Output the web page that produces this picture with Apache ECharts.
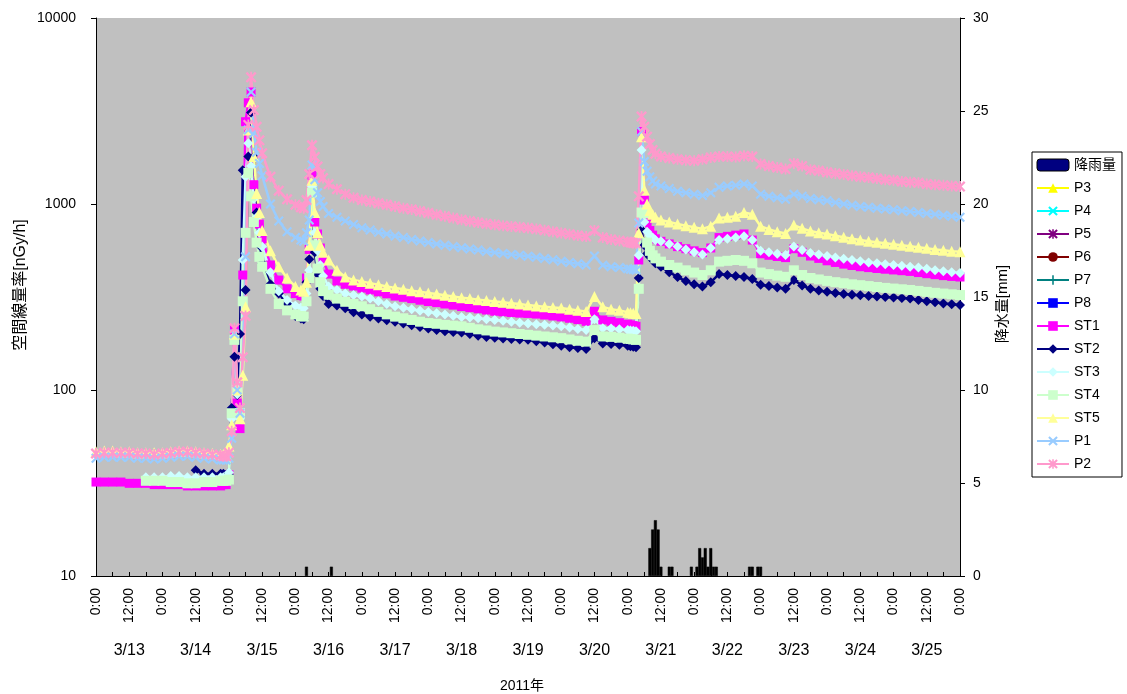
<!DOCTYPE html>
<html><head><meta charset="utf-8">
<script src="https://cdn.jsdelivr.net/npm/echarts@6/dist/echarts.min.js"></script>
<style>html,body{margin:0;padding:0;background:#fff}#c{width:1127px;height:694px}</style>
</head><body><div id="c"></div>
<script>
// hours since 2011-03-13 0:00
const hours = [0,3,6,9,12,15,18,21,24,27,30,33,36,39,42,45,
46,47,48,49,50,51,52,53,54,55,56,57,58,59,60,
63,66,69,72,
74,75,76,77,78,79,80,81,82,
84,
87,90,93,96,99,102,105,108,111,114,117,120,123,126,129,132,135,138,141,144,147,150,153,156,159,162,165,168,171,174,177,180,183,186,189,192,
193,194,195,196,197,198,199,200,201,202,
204,
207,210,213,216,219,222,225,228,231,234,237,240,243,246,249,252,255,258,261,264,267,270,273,276,279,282,285,288,291,294,297,300,303,306,309,312];

const P2 = [45.5,46,46,46,46,45.5,45.5,45,45.5,46,46.5,46.5,46,45.5,45,44.5,
44,44,46,60,215,110,80,150,250,2660,4800,3200,2600,2200,1875,
1400,1180,1060,990,
960,950,1050,1450,2070,1790,1590,1450,1380,
1280,
1200,1130,1080,1050,1030,1010,990,970,950,935,915,895,875,858,840,822,808,795,783,773,765,758,750,742,733,722,710,698,688,678,668,720,660,645,635,625,
622,618,615,1100,2950,2600,2300,2100,1950,1860,
1800,
1770,1740,1720,1710,1740,1780,1800,1800,1790,1820,1800,1640,1600,1570,1540,1650,1600,1530,1510,1480,1460,1440,1420,1400,1390,1370,1350,1340,1320,1310,1300,1280,1270,1260,1250,1240];

const P1 = [43,43.5,43.5,43.5,43.5,43,43,42.5,43,43.5,44,44,43.5,43,42.5,42,
42,42,43,55,200,100,75,150,520,2500,4000,2400,1900,1650,1420,
1000,810,710,660,
640,630,700,820,1620,1350,1150,1030,970,
890,
850,810,775,745,725,705,690,672,660,645,632,620,610,600,590,582,573,565,556,548,542,536,530,524,518,510,502,493,485,477,470,525,468,460,455,448,
446,444,442,790,2450,1690,1500,1400,1330,1280,
1250,
1210,1170,1150,1130,1110,1150,1230,1250,1260,1280,1250,1130,1100,1080,1060,1130,1100,1070,1055,1040,1020,1000,985,970,960,950,940,930,920,910,900,890,880,870,860,850];

const ST5 = [46.5,47,47,46.5,46.5,46,46,46,46,46.5,47,47,46.5,46,45.5,45,
45,45,50,65,200,100,70,120,280,2500,3550,1800,1140,900,720,
560,460,400,360,
345,340,380,600,1340,900,700,600,550,
500,
440,405,390,383,375,368,360,354,348,342,337,332,328,323,318,313,310,306,303,299,296,293,290,286,283,280,278,276,272,268,264,318,280,272,268,262,
260,259,258,700,2300,1190,1000,920,880,850,
820,
800,780,765,750,735,760,840,850,860,900,880,760,730,710,695,770,740,715,700,690,675,662,650,640,630,622,615,607,600,592,585,578,570,564,558,553];

const ST1 = [32,32,32,32,31.5,31.5,31.5,31,31,31,31,30.5,30.5,30.5,30.5,30.5,
31,31,35,75,210,85,62,415,2770,3500,4000,1270,950,780,650,
470,390,350,330,
322,320,400,570,1430,800,690,580,500,
420,
385,370,362,353,345,337,329,320,315,310,304,299,295,290,286,281,277,273,269,265,263,261,259,258,256,253,250,247,243,239,234,265,238,234,230,226,
224,222,220,500,2450,1050,800,720,680,650,
630,
610,590,575,560,548,580,660,670,680,690,640,540,530,522,515,575,550,525,510,495,485,475,467,460,455,450,446,442,438,434,428,422,417,412,408,405];

const ST2 = [null,null,null,null,null,null,null,null,null,null,null,null,37,35.5,35.5,35.5,
35.5,35,35,80,151,94,200,1520,345,1800,3100,1790,900,600,480,
370,330,290,250,
242,240,380,505,1150,550,420,350,320,
290,
285,275,262,255,248,242,237,233,228,223,218,214,210,207,205,204,200,196,193,191,189,188,187,186,183,180,176,173,170,168,166,190,178,177,175,173,
172,171,170,400,725,600,540,520,500,480,
460,
430,405,385,370,360,380,420,415,410,405,395,368,362,356,350,390,365,350,343,337,332,328,325,323,320,318,316,314,312,310,305,300,296,292,289,286];

const ST3 = [null,null,null,null,null,null,34,34,34,34.5,34.5,34,34,34,34,34,
34,34,36,70,190,95,70,500,1400,2120,1600,1070,850,700,590,
430,340,305,285,
278,275,330,440,1240,700,560,470,410,
360,
345,330,324,318,310,300,290,282,277,272,267,263,259,255,251,247,245,243,240,238,236,233,230,228,226,224,222,220,217,213,210,240,215,214,212,210,
209,208,207,530,1950,800,710,680,660,640,
630,
610,590,570,550,535,580,640,650,660,670,640,560,550,540,532,590,565,545,535,525,515,507,500,492,485,480,475,470,465,460,455,448,440,435,430,425];

const ST4 = [null,null,null,null,null,null,32.5,32.5,32.5,32,32,31.5,31.5,32,32,32.5,
32.5,32.5,33,75,186,100,75,300,700,1470,1100,800,620,520,460,
350,290,268,255,
250,248,300,400,1150,600,450,380,340,
325,
310,298,290,282,272,263,255,248,243,238,233,229,227,224,222,220,216,212,209,206,204,202,200,198,196,194,192,190,187,184,182,210,194,193,191,189,
188,187,186,350,900,890,620,560,530,510,
490,
470,455,440,428,415,440,490,495,500,495,480,428,420,412,406,440,415,400,393,386,380,375,370,366,362,358,354,351,348,345,341,337,333,330,327,324];

// rainfall [mm] per hour
const rainHours = [76,85,200,201,202,203,204,207,208,215,217,218,219,220,221,222,223,224,236,237,239,240];
const rainMm    = [0.5,0.5,1.5,2.5,3.0,2.5,0.5,0.5,0.5,0.5,0.5,1.5,1.0,1.5,0.5,1.5,0.5,0.5,0.5,0.5,0.5,0.5];

const dates = ['3/13','3/14','3/15','3/16','3/17','3/18','3/19','3/20','3/21','3/22','3/23','3/24','3/25'];

const FONT = "'Liberation Sans','Noto Sans CJK JP',sans-serif";
const SX = 'path://M0,1.5L1.5,0L5,3.5L8.5,0L10,1.5L6.5,5L10,8.5L8.5,10L5,6.5L1.5,10L0,8.5L3.5,5Z';
const SAST = SX + 'M4.2,0L5.8,0L5.8,10L4.2,10Z';
const SPLUS = 'path://M4.2,0L5.8,0L5.8,4.2L10,4.2L10,5.8L5.8,5.8L5.8,10L4.2,10L4.2,5.8L0,5.8L0,4.2L4.2,4.2Z';
const SDASH = 'path://M0,3.5L10,3.5L10,6.5L0,6.5Z';

function pairs(vals){
  const out = [];
  if (!vals) return out;
  vals.forEach((v,i)=>{ if (v !== null) out.push([hours[i], v]); });
  return out;
}

const lineDefs = [
  {name:'P3', color:'#FFFF00', symbol:'triangle', size:9, vals:null},
  {name:'P4', color:'#00FFFF', symbol:SX, size:8, vals:null},
  {name:'P5', color:'#800080', symbol:SAST, size:9, vals:null},
  {name:'P6', color:'#800000', symbol:'circle', size:8, vals:null},
  {name:'P7', color:'#008080', symbol:SPLUS, size:9, vals:null},
  {name:'P8', color:'#0000FF', symbol:SDASH, size:[8,3], vals:null},
  {name:'ST1', color:'#FF00FF', symbol:'rect', size:9, vals:ST1},
  {name:'ST2', color:'#000080', symbol:'diamond', size:10, vals:ST2},
  {name:'ST3', color:'#CCFFFF', symbol:'diamond', size:10, vals:ST3},
  {name:'ST4', color:'#CCFFCC', symbol:'rect', size:10, vals:ST4},
  {name:'ST5', color:'#FFFF99', symbol:'triangle', size:11, vals:ST5},
  {name:'P1', color:'#99CCFF', symbol:SX, size:10, vals:P1},
  {name:'P2', color:'#FF99CC', symbol:SAST, size:11, vals:P2}
];

const series = [{
  name:'降雨量', type:'bar', xAxisIndex:0, yAxisIndex:1,
  barWidth:3,
  itemStyle:{color:'#000000', borderColor:'#000', borderWidth:0.5},
  data: rainHours.map((h,i)=>[h, rainMm[i]])
}];
lineDefs.forEach(d=>{
  series.push({
    name:d.name, type:'line', xAxisIndex:0, yAxisIndex:0,
    symbol:d.symbol, symbolSize:d.size, showAllSymbol:true,
    color:d.color,
    lineStyle:{color:d.color, width:2.5},
    itemStyle:{color:d.color},
    emphasis:{disabled:true},
    data: pairs(d.vals)
  });
});

const legendNames = ['P3','P4','P5','P6','P7','P8','ST1','ST2','ST3','ST4','ST5','P1','P2'];

const chart = echarts.init(document.getElementById('c'), null, {renderer:'canvas'});
chart.setOption({
  animation:false,
  backgroundColor:'#ffffff',
  textStyle:{fontFamily:FONT, color:'#000'},
  grid:{left:96, right:167, top:18, bottom:118, show:true, backgroundColor:'#C0C0C0', borderWidth:0},
  legend:{
    orient:'vertical', left:1032, top:152,
    padding:[5,6,5,4], itemGap:7, itemWidth:32, itemHeight:12,
    borderColor:'#000', borderWidth:1, backgroundColor:'#fff',
    textStyle:{fontSize:14, color:'#000', fontFamily:FONT, lineHeight:16},
    data:[{name:'降雨量', itemStyle:{color:'#000080', borderColor:'#000', borderWidth:1}}].concat(legendNames)
  },
  xAxis:[{
    type:'value', min:0, max:312, interval:6,
    axisLine:{show:true, lineStyle:{color:'#000', width:1}},
    axisTick:{show:true, inside:true, length:4, lineStyle:{color:'#000'}},
    splitLine:{show:false},
    axisLabel:{rotate:90, margin:12, fontSize:14, color:'#000', fontFamily:FONT,
      formatter:function(v){ if (v%24===0) return '0:00'; if (v%12===0) return '12:00'; return ''; }}
  },{
    type:'category', data:dates, position:'bottom', offset:59,
    axisLine:{show:false}, axisTick:{show:false}, splitLine:{show:false},
    axisLabel:{fontSize:16, color:'#000', margin:8, fontFamily:FONT, interval:0}
  }],
  yAxis:[{
    type:'log', logBase:10, min:10, max:10000, position:'left',
    axisLine:{show:true, lineStyle:{color:'#000'}},
    axisTick:{show:true, length:5, lineStyle:{color:'#000'}},
    splitLine:{show:false}, minorTick:{show:false},
    axisLabel:{fontSize:14, color:'#000', margin:20, fontFamily:FONT,
      formatter:function(v){ return String(Math.round(v)); }}
  },{
    type:'value', min:0, max:30, interval:5, position:'right',
    axisLine:{show:true, lineStyle:{color:'#000'}},
    axisTick:{show:true, length:5, lineStyle:{color:'#000'}},
    splitLine:{show:false},
    axisLabel:{fontSize:14, color:'#000', margin:13, fontFamily:FONT}
  }],
  graphic:[
    {type:'text', x:21, y:285, rotation:Math.PI/2,
     style:{text:'空間線量率[nGy/h]', fill:'#000', font:'16px '+FONT, align:'center', verticalAlign:'middle'}},
    {type:'text', x:1003, y:304, rotation:Math.PI/2,
     style:{text:'降水量[mm]', fill:'#000', font:'15px '+FONT, align:'center', verticalAlign:'middle'}},
    {type:'text', x:522, y:686,
     style:{text:'2011年', fill:'#000', font:'14px '+FONT, align:'center', verticalAlign:'middle'}}
  ],
  series: series
});
</script></body></html>
